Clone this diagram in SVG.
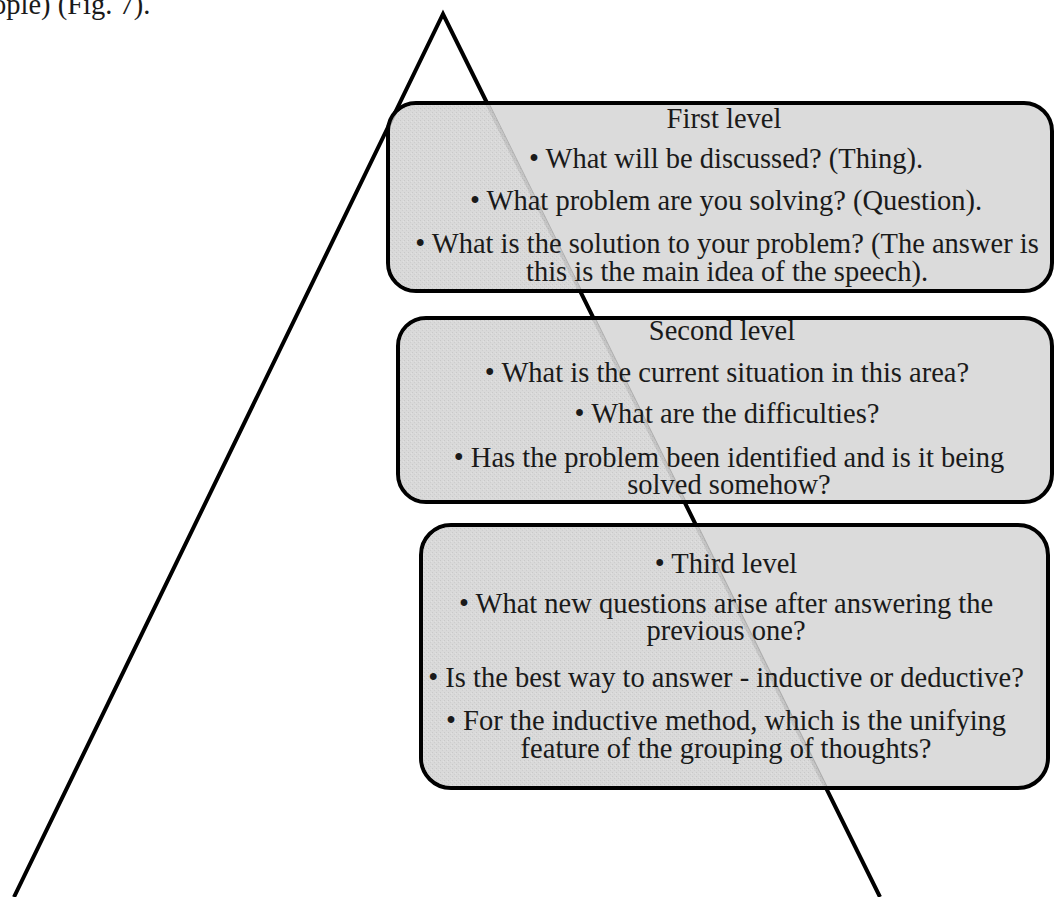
<svg xmlns="http://www.w3.org/2000/svg" width="1055" height="897" viewBox="0 0 1055 897">
  <style>
    .t { font-family: "Liberation Serif", "Times New Roman", serif; font-size: 28.5px; fill: #1a1a1a; text-anchor: middle; }
    .box { fill: #d3d3d3; fill-opacity: 0.82; stroke: #000; stroke-width: 4; }
    .edge { fill: none; stroke: #000; stroke-width: 4; }
    .spk { fill: url(#speckle); }
  </style>
  <defs>
    <pattern id="speckle" width="4" height="4" patternUnits="userSpaceOnUse">
      <rect width="4" height="4" fill="#d8d8d8"/>
      <rect x="0" y="0" width="1" height="1" fill="#b9b9b9"/>
      <rect x="2" y="2" width="1" height="1" fill="#c2c2c2"/>
      <rect x="3" y="1" width="1" height="1" fill="#e6e6e6"/>
    </pattern>
    <clipPath id="tri">
      <polygon points="446,17 881,897 12,897"/>
    </clipPath>
  </defs>
  <rect width="1055" height="897" fill="#fff"/>
  <text class="t" x="-8" y="14" style="text-anchor:start">ople) (Fig. 7).</text>

  <g id="connectors">
    <polyline class="edge" points="14,897 443,14 880,897"/>
  </g>

  <g id="level1">
    <rect class="box" x="388" y="103" width="664" height="188" rx="28"/>
    <rect class="spk" x="390" y="105" width="660" height="184" rx="26" clip-path="url(#tri)" opacity="0.55"/>
    <text class="t" x="724" y="128">First level</text>
    <text class="t" x="726" y="168">• What will be discussed? (Thing).</text>
    <text class="t" x="726" y="210">• What problem are you solving? (Question).</text>
    <text class="t" x="727" y="253">• What is the solution to your problem? (The answer is</text>
    <text class="t" x="727" y="281">this is the main idea of the speech).</text>
  </g>

  <g id="level2">
    <rect class="box" x="398" y="318" width="654" height="184" rx="28"/>
    <rect class="spk" x="400" y="320" width="650" height="180" rx="26" clip-path="url(#tri)" opacity="0.55"/>
    <text class="t" x="722" y="340">Second level</text>
    <text class="t" x="727" y="382">• What is the current situation in this area?</text>
    <text class="t" x="727" y="423">• What are the difficulties?</text>
    <text class="t" x="729" y="467">• Has the problem been identified and is it being</text>
    <text class="t" x="729" y="494">solved somehow?</text>
  </g>

  <g id="level3">
    <rect class="box" x="421" y="525" width="627" height="263" rx="30"/>
    <rect class="spk" x="423" y="527" width="623" height="259" rx="28" clip-path="url(#tri)" opacity="0.55"/>
    <text class="t" x="726" y="573">• Third level</text>
    <text class="t" x="726" y="613">• What new questions arise after answering the</text>
    <text class="t" x="726" y="640">previous one?</text>
    <text class="t" x="726" y="687">• Is the best way to answer - inductive or deductive?</text>
    <text class="t" x="726" y="730">• For the inductive method, which is the unifying</text>
    <text class="t" x="726" y="758">feature of the grouping of thoughts?</text>
  </g>
</svg>
